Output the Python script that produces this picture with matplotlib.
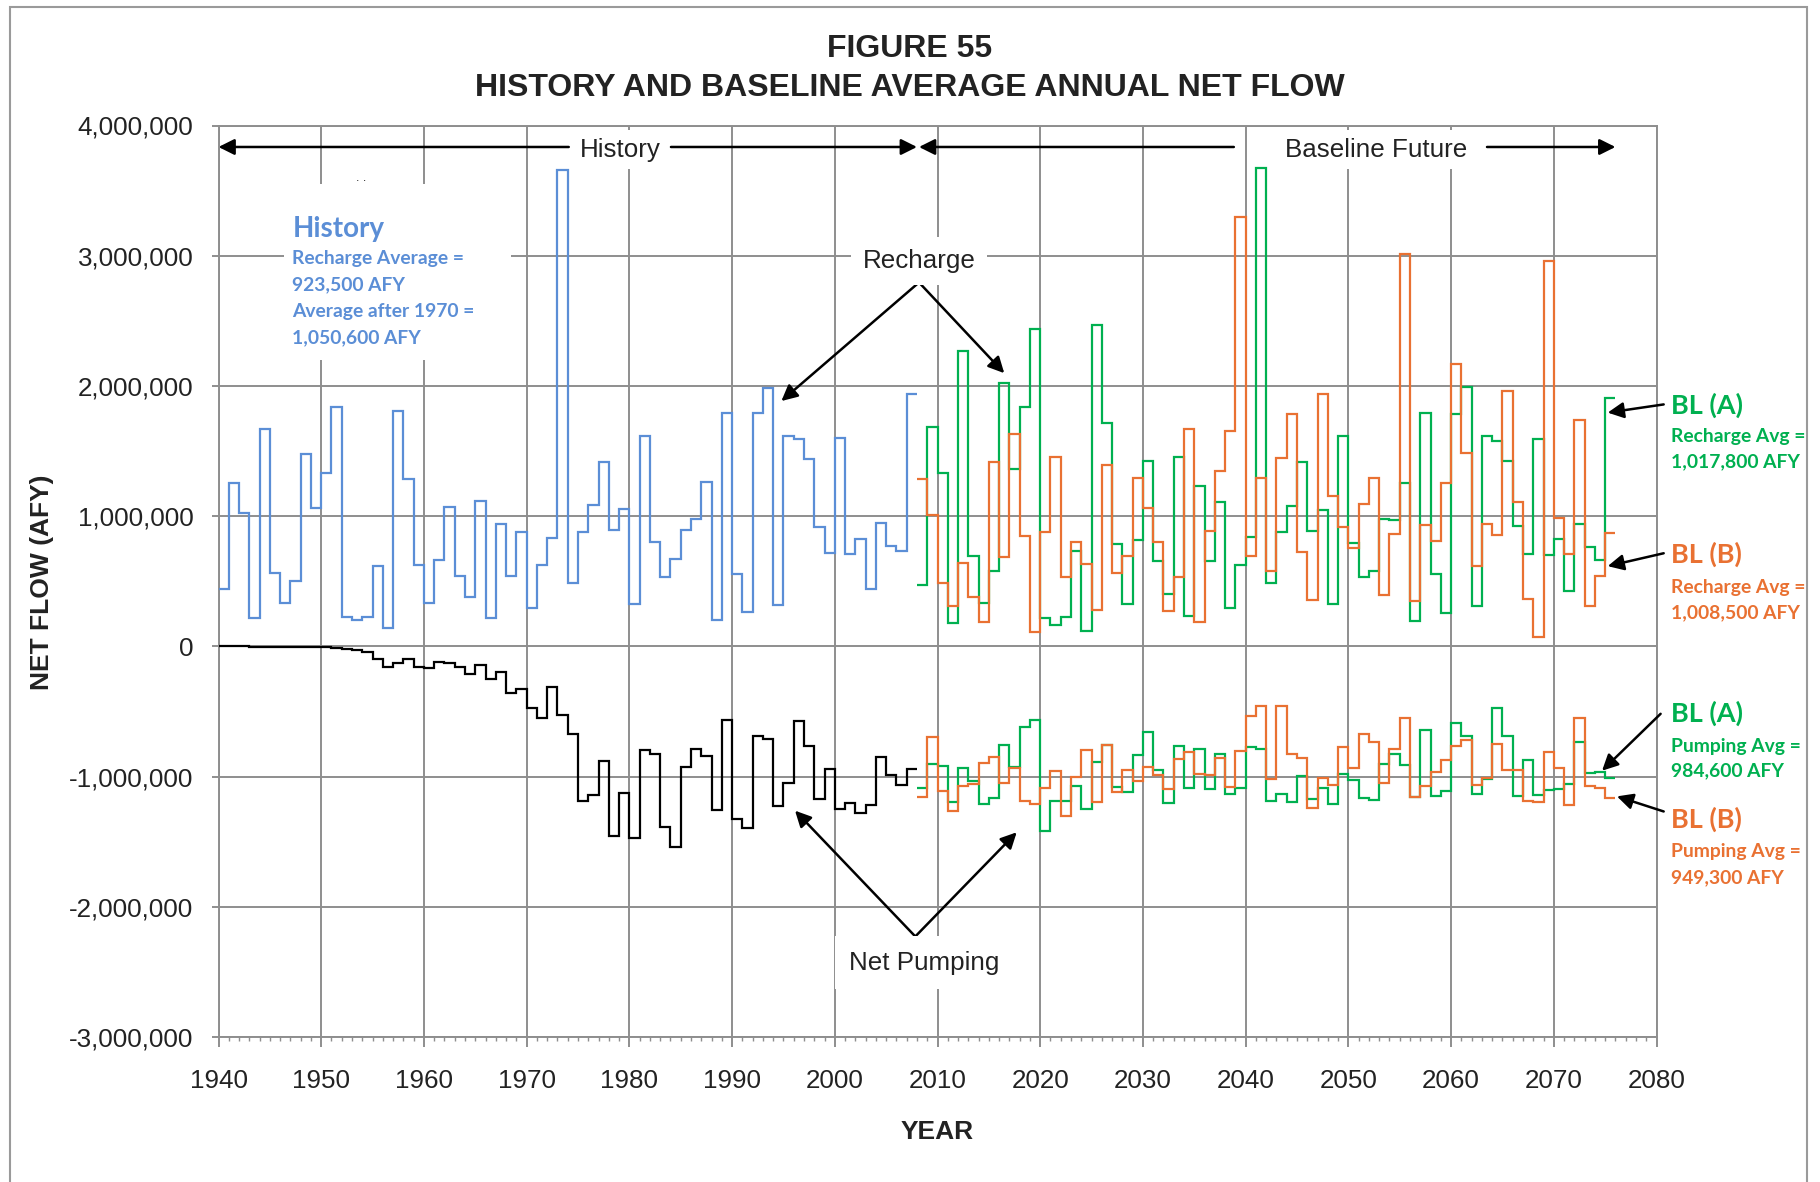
import numpy as np
import matplotlib
matplotlib.use("Agg")
import matplotlib.pyplot as plt
from matplotlib.patches import Rectangle
from matplotlib.ticker import FuncFormatter, MultipleLocator

# annual net flow, million AFY, one value per year
hist_start = 1940
hist_recharge = [
    0.442, 1.257, 1.023, 0.214, 1.668, 0.560, 0.335, 0.505, 1.476, 1.059,
    1.333, 1.838, 0.228, 0.200, 0.228, 0.620, 0.140, 1.810, 1.289, 0.626,
    0.332, 0.667, 1.073, 0.538, 0.381, 1.114, 0.214, 0.936, 0.543, 0.881,
    0.291, 0.626, 0.834, 3.660, 0.483, 0.879, 1.082, 1.418, 0.892, 1.054,
    0.328, 1.618, 0.803, 0.533, 0.674, 0.892, 0.977, 1.259, 0.200, 1.792,
    0.559, 0.264, 1.792, 1.987, 0.315, 1.618, 1.592, 1.436, 0.918, 0.718,
    1.597, 0.708, 0.828, 0.444, 0.944, 0.772, 0.733, 1.936,
]
hist_pumping = [
    -0.000, -0.001, -0.001, -0.002, -0.002, -0.003, -0.004, -0.008, -0.008, -0.008,
    -0.008, -0.010, -0.020, -0.028, -0.046, -0.098, -0.157, -0.131, -0.095, -0.157,
    -0.165, -0.118, -0.126, -0.157, -0.213, -0.144, -0.252, -0.195, -0.362, -0.329,
    -0.470, -0.550, -0.311, -0.527, -0.671, -1.190, -1.141, -0.879, -1.454, -1.126,
    -1.469, -0.795, -0.823, -1.387, -1.538, -0.928, -0.790, -0.841, -1.259, -0.562,
    -1.328, -1.397, -0.685, -0.710, -1.228, -1.051, -0.574, -0.767, -1.172, -0.941,
    -1.246, -1.200, -1.279, -1.215, -0.851, -0.987, -1.062, -0.944,
]

fut_start = 2008
bl_a_recharge = [
    0.469, 1.684, 1.328, 0.181, 2.266, 0.694, 0.332, 0.579, 2.025, 1.361, 1.841, 2.436,
    0.219, 0.167, 0.228, 0.730, 0.118, 2.469, 1.712, 0.785, 0.326, 0.818,
    1.424, 0.658, 0.401, 1.451, 0.230, 1.232, 0.658, 1.111, 0.296, 0.628,
    0.840, 3.671, 0.488, 0.875, 1.081, 1.416, 0.886, 1.051, 0.324, 1.619,
    0.793, 0.532, 0.576, 0.979, 0.971, 1.257, 0.195, 1.791, 0.557, 0.255,
    1.786, 1.992, 0.310, 1.613, 1.580, 1.421, 0.927, 0.711, 1.591, 0.702,
    0.826, 0.428, 0.941, 0.765, 0.667, 1.909,
]
bl_b_recharge = [
    1.287, 1.010, 0.483, 0.310, 0.639, 0.381, 0.187, 1.416, 0.686, 1.627, 0.845, 0.107,
    0.878, 1.457, 0.532, 0.798, 0.634, 0.283, 1.396, 0.565, 0.697, 1.292,
    1.064, 0.798, 0.274, 0.529, 1.668, 0.187, 0.886, 1.347, 1.654, 3.300,
    0.697, 1.292, 0.576, 1.443, 1.783, 0.722, 0.354, 1.937, 1.155, 0.916,
    0.757, 1.092, 1.292, 0.392, 0.861, 3.015, 0.351, 0.930, 0.807, 1.251,
    2.167, 1.484, 0.620, 0.941, 0.859, 1.964, 1.106, 0.365, 0.071, 2.957,
    0.985, 0.711, 1.737, 0.313, 0.543, 0.872,
]
bl_a_pumping = [
    -1.090, -0.903, -0.918, -1.195, -0.933, -1.033, -1.213, -1.162, -0.756, -0.923, -0.623, -0.567,
    -1.418, -1.185, -1.187, -1.074, -1.246, -0.885, -0.756, -1.082, -1.115, -0.833,
    -0.659, -0.946, -1.200, -0.767, -1.085, -0.787, -1.092, -0.826, -1.131, -1.085,
    -0.772, -0.787, -1.185, -1.133, -1.197, -0.995, -1.169, -1.085, -1.213, -0.977,
    -1.023, -1.162, -1.177, -0.900, -0.823, -0.910, -1.159, -0.641, -1.149, -1.113,
    -0.590, -0.692, -1.131, -1.018, -0.477, -0.692, -1.151, -0.869, -1.144, -1.100,
    -1.095, -1.059, -0.731, -0.974, -0.967, -1.008,
]
bl_b_pumping = [
    -1.156, -0.695, -1.110, -1.264, -1.074, -1.056, -0.895, -0.849, -1.046, -0.931, -1.190, -1.208,
    -1.085, -0.959, -1.303, -1.003, -0.795, -1.192, -0.756, -1.118, -0.946, -1.031,
    -0.928, -0.990, -1.097, -0.864, -0.815, -0.977, -0.987, -0.859, -1.077, -0.800,
    -0.536, -0.459, -1.018, -0.459, -0.826, -0.856, -1.244, -1.008, -1.064, -0.772,
    -0.931, -0.674, -0.738, -1.051, -0.792, -0.549, -1.159, -1.072, -0.962, -0.872,
    -0.767, -0.718, -1.062, -1.010, -0.749, -0.949, -0.949, -1.187, -1.197, -0.810,
    -0.938, -1.218, -0.554, -1.072, -1.087, -1.167,
]

hist_note = ["History", "Recharge Average =", "923,500 AFY",
             "Average after 1970 =", "1,050,600 AFY"]
side_notes = [
    ("BL (A)", "Recharge Avg =", "1,017,800 AFY"),
    ("BL (B)", "Recharge Avg =", "1,008,500 AFY"),
    ("BL (A)", "Pumping Avg =", "984,600 AFY"),
    ("BL (B)", "Pumping Avg =", "949,300 AFY"),
]

BLUE = "#5B8ED6"
GREEN = "#00B050"
ORANGE = "#E97132"
GRID = "#8E8E8E"
TXT = "#222222"

plt.rcParams["font.family"] = ["Liberation Sans", "DejaVu Sans"]

W, H = 1820, 1182
fig = plt.figure(figsize=(W / 100, H / 100), dpi=100)
fig.patch.set_facecolor("white")


def fx(px):
    return px / W


def fy(py):
    return 1 - py / H


ax = fig.add_axes([fx(218.5), fy(1037), fx(1656.5) - fx(218.5), fy(125.5) - fy(1037)])

M = 1e6


def stairs(ax, start, vals, **kw):
    v = np.asarray(vals) * M
    edges = np.arange(start, start + len(v) + 1)
    ax.stairs(v, edges, baseline=None, **kw)


stairs(ax, hist_start, hist_recharge, color=BLUE, lw=1.6, zorder=3)
stairs(ax, hist_start, hist_pumping, color="black", lw=1.6, zorder=3)
stairs(ax, fut_start, bl_a_recharge, color=GREEN, lw=1.6, zorder=3)
stairs(ax, fut_start, bl_b_recharge, color=ORANGE, lw=1.6, zorder=3.1)
stairs(ax, fut_start, bl_a_pumping, color=GREEN, lw=1.6, zorder=3)
stairs(ax, fut_start, bl_b_pumping, color=ORANGE, lw=1.6, zorder=3.1)

ax.set_xlim(1940, 2080)
ax.set_ylim(-3 * M, 4 * M)
ax.xaxis.set_major_locator(MultipleLocator(10))
ax.xaxis.set_minor_locator(MultipleLocator(1))
ax.yaxis.set_major_locator(MultipleLocator(M))
ax.yaxis.set_major_formatter(FuncFormatter(lambda v, p: f"{v:,.0f}"))
ax.set_axisbelow(True)
ax.grid(True, which="major", color=GRID, lw=1.4)
for s in ax.spines.values():
    s.set_color(GRID)
    s.set_linewidth(1.4)
ax.tick_params(axis="y", which="major", length=5, width=1.4, color=GRID,
               labelsize=18.7, labelcolor=TXT, pad=13)
ax.tick_params(axis="x", which="major", length=7, width=1.4, color=GRID,
               labelsize=18.7, labelcolor=TXT, pad=16)
ax.tick_params(axis="x", which="minor", length=3, width=1.0, color=GRID)

# titles and axis names
fig.text(0.5, fy(49), "FIGURE 55", ha="center", va="center",
         fontsize=23, fontweight="bold", color=TXT)
fig.text(0.5, fy(88), "HISTORY AND BASELINE AVERAGE ANNUAL NET FLOW", ha="center",
         va="center", fontsize=23, fontweight="bold", color=TXT)
fig.text(fx(42), fy(582), "NET FLOW (AFY)", rotation=90, ha="center", va="center",
         fontsize=19, fontweight="bold", color=TXT)
fig.text(fx(937), fy(1132), "YEAR", ha="center", va="center",
         fontsize=19, fontweight="bold", color=TXT)

# outer frame
fig.add_artist(Rectangle((fx(10), -0.02), fx(1807) - fx(10), fy(7) + 0.02,
                         transform=fig.transFigure, fill=False, edgecolor="#9A9A9A", lw=1.5))

arrow = dict(arrowstyle="-|>", color="black", lw=1.8, mutation_scale=24,
             shrinkA=0, shrinkB=0)
line_kw = dict(fontsize=18.7, color=TXT, ha="center", va="center", zorder=6)
wbox = dict(boxstyle="square,pad=0.3", fc="white", ec="none")

# period arrows along the top
yt = 3.835 * M
ax.annotate("", xy=(1940, yt), xytext=(1974.1, yt), arrowprops=arrow, zorder=5)
ax.annotate("", xy=(2008.0, yt), xytext=(1984.05, yt), arrowprops=arrow, zorder=5)
ax.text(1979.1, yt - 0.02 * M, "History", bbox=wbox, **line_kw)
ax.annotate("", xy=(2008.2, yt), xytext=(2038.85, yt), arrowprops=arrow, zorder=5)
ax.annotate("", xy=(2076.0, yt), xytext=(2063.5, yt), arrowprops=arrow, zorder=5)
ax.text(2052.75, yt - 0.02 * M, "Baseline Future", bbox=wbox, **line_kw)

# recharge / pumping callouts
ax.text(2008.2, 2.96 * M, "Recharge", bbox=dict(boxstyle="square,pad=0.45", fc="white", ec="none"),
        **line_kw)
for tgt in [(1994.8, 1.884 * M), (2016.5, 2.098 * M)]:
    ax.annotate("", xy=tgt, xytext=(2008.2, 2.795 * M), arrowprops=arrow, zorder=5)
ax.text(2008.7, -2.43 * M, "Net Pumping", bbox=dict(boxstyle="square,pad=0.55", fc="white", ec="none"),
        **line_kw)
for tgt in [(1996.13, -1.262 * M), (2017.71, -1.428 * M)]:
    ax.annotate("", xy=tgt, xytext=(2007.84, -2.228 * M), arrowprops=arrow, zorder=5)

# history averages note
ax.add_patch(Rectangle((1946.4, 2.198 * M), 22.1, 1.352 * M, fc="white", ec="none", zorder=1))
ax.text(1953.9, 3.6 * M, ". .", fontsize=9, color=TXT, ha="center", va="center")
note_y = [229.5, 258.8, 284.3, 311, 337.7]
for i, (s, py) in enumerate(zip(hist_note, note_y)):
    fig.text(fx(292.5), fy(py), s, family="Lato", fontweight="bold",
             fontsize=20 if i == 0 else 13.9, color=BLUE, ha="left", va="center")

# scenario labels on the right
side_y = [(405, 436.4, 462), (554.8, 587.3, 612.9), (713.8, 746.3, 770.7), (819.5, 852, 877.5)]
side_c = [GREEN, ORANGE, GREEN, ORANGE]
for (a, b, c), (y1, y2, y3), col in zip(side_notes, side_y, side_c):
    fig.text(fx(1671.4), fy(y1), a, family="Lato", fontweight="bold", fontsize=19.5,
             color=col, ha="left", va="center")
    fig.text(fx(1671.4), fy(y2), b, family="Lato", fontweight="bold", fontsize=13.9,
             color=col, ha="left", va="center")
    fig.text(fx(1671.4), fy(y3), c, family="Lato", fontweight="bold", fontsize=13.9,
             color=col, ha="left", va="center")

side_arrows = [
    ((2080.7, 1.858 * M), (2075.25, 1.795 * M)),
    ((2080.7, 0.715 * M), (2075.25, 0.616 * M)),
    ((2080.4, -0.518 * M), (2074.7, -0.955 * M)),
    ((2080.7, -1.268 * M), (2076.15, -1.152 * M)),
]
for start, tgt in side_arrows:
    ax.annotate("", xy=tgt, xytext=start, arrowprops=arrow, annotation_clip=False, zorder=5)

fig.savefig("out.png", dpi=100)
